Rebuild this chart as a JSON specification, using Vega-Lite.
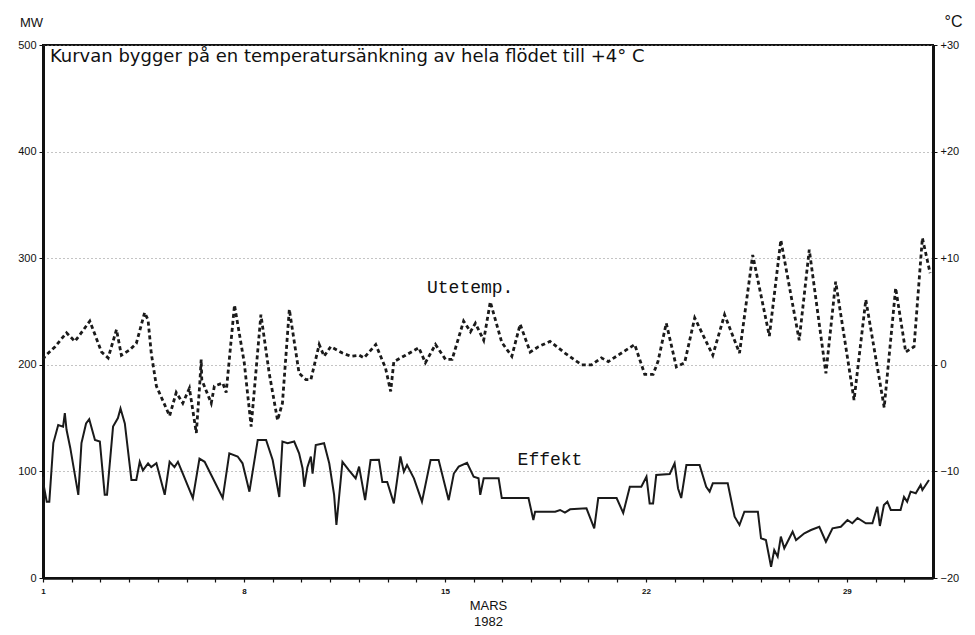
{
  "$schema": "https://vega.github.io/schema/vega-lite/v6.json",
  "width": 890,
  "height": 533,
  "autosize": "none",
  "padding": {"left": 43, "top": 45, "right": 42, "bottom": 57},
  "background": "white",
  "config": {
    "view": {"stroke": "#111", "strokeWidth": 2},
    "font": "Liberation Sans",
    "axis": {"labelColor": "#111", "titleColor": "#111", "domainColor": "#111", "tickColor": "#111"}
  },
  "datasets": {
    "effekt": [
      {"day": 1.0, "mw": 95}, {"day": 1.01, "mw": 89}, {"day": 1.13, "mw": 71.6}, {"day": 1.22, "mw": 71.6},
      {"day": 1.36, "mw": 126.6}, {"day": 1.53, "mw": 143.5}, {"day": 1.7, "mw": 142}, {"day": 1.76, "mw": 154.6},
      {"day": 1.82, "mw": 139}, {"day": 1.95, "mw": 122}, {"day": 2.23, "mw": 78}, {"day": 2.34, "mw": 126.6}, {"day": 2.5, "mw": 145}, {"day": 2.61, "mw": 149},
      {"day": 2.81, "mw": 129.5}, {"day": 2.98, "mw": 128}, {"day": 3.15, "mw": 78}, {"day": 3.23, "mw": 78},
      {"day": 3.44, "mw": 142}, {"day": 3.61, "mw": 150}, {"day": 3.7, "mw": 159}, {"day": 3.85, "mw": 145},
      {"day": 4.08, "mw": 92}, {"day": 4.25, "mw": 92}, {"day": 4.37, "mw": 109}, {"day": 4.48, "mw": 101},
      {"day": 4.66, "mw": 107.6}, {"day": 4.77, "mw": 104}, {"day": 4.95, "mw": 107.6}, {"day": 5.24, "mw": 78},
      {"day": 5.41, "mw": 109}, {"day": 5.58, "mw": 104}, {"day": 5.7, "mw": 109}, {"day": 5.87, "mw": 98},
      {"day": 6.22, "mw": 75}, {"day": 6.45, "mw": 112}, {"day": 6.63, "mw": 109}, {"day": 6.86, "mw": 96.6},
      {"day": 7.26, "mw": 75}, {"day": 7.49, "mw": 117}, {"day": 7.78, "mw": 114}, {"day": 7.95, "mw": 107.6},
      {"day": 8.19, "mw": 81}, {"day": 8.48, "mw": 129.5}, {"day": 8.77, "mw": 129.5}, {"day": 9.0, "mw": 110.7},
      {"day": 9.23, "mw": 76}, {"day": 9.34, "mw": 128}, {"day": 9.52, "mw": 126.4}, {"day": 9.75, "mw": 128},
      {"day": 9.92, "mw": 117}, {"day": 10.04, "mw": 103}, {"day": 10.1, "mw": 85.6}, {"day": 10.21, "mw": 104},
      {"day": 10.33, "mw": 114}, {"day": 10.39, "mw": 98}, {"day": 10.5, "mw": 124.8}, {"day": 10.79, "mw": 126.4},
      {"day": 10.97, "mw": 107.6}, {"day": 11.14, "mw": 78}, {"day": 11.22, "mw": 49.7}, {"day": 11.43, "mw": 109},
      {"day": 11.66, "mw": 101}, {"day": 11.89, "mw": 93.5}, {"day": 12.01, "mw": 104.5}, {"day": 12.22, "mw": 73},
      {"day": 12.41, "mw": 110.7}, {"day": 12.7, "mw": 111}, {"day": 12.82, "mw": 90}, {"day": 12.99, "mw": 90},
      {"day": 13.22, "mw": 70}, {"day": 13.45, "mw": 114}, {"day": 13.57, "mw": 99.7}, {"day": 13.68, "mw": 106},
      {"day": 13.92, "mw": 93.5}, {"day": 14.2, "mw": 71.6}, {"day": 14.5, "mw": 110.7}, {"day": 14.78, "mw": 110.7},
      {"day": 15.13, "mw": 73}, {"day": 15.31, "mw": 98}, {"day": 15.48, "mw": 104.5}, {"day": 15.77, "mw": 108},
      {"day": 16.0, "mw": 95}, {"day": 16.17, "mw": 93.5}, {"day": 16.23, "mw": 78}, {"day": 16.35, "mw": 93.5},
      {"day": 16.87, "mw": 93.5}, {"day": 16.98, "mw": 75}, {"day": 17.91, "mw": 75}, {"day": 18.08, "mw": 54.4},
      {"day": 18.14, "mw": 62.2}, {"day": 18.84, "mw": 62.2}, {"day": 19.01, "mw": 63.8}, {"day": 19.18, "mw": 61.3},
      {"day": 19.36, "mw": 64.4}, {"day": 19.93, "mw": 65.4}, {"day": 20.2, "mw": 46.6}, {"day": 20.34, "mw": 75},
      {"day": 20.98, "mw": 75}, {"day": 21.21, "mw": 61}, {"day": 21.44, "mw": 85.6}, {"day": 21.84, "mw": 85.6},
      {"day": 22.02, "mw": 95}, {"day": 22.13, "mw": 70}, {"day": 22.25, "mw": 70}, {"day": 22.36, "mw": 96.6},
      {"day": 22.83, "mw": 97.6}, {"day": 23.0, "mw": 107.6}, {"day": 23.12, "mw": 84}, {"day": 23.23, "mw": 75},
      {"day": 23.41, "mw": 106}, {"day": 23.87, "mw": 106}, {"day": 24.1, "mw": 85.6}, {"day": 24.22, "mw": 81},
      {"day": 24.33, "mw": 88.8}, {"day": 24.85, "mw": 88.8}, {"day": 25.09, "mw": 57.5}, {"day": 25.26, "mw": 49.7},
      {"day": 25.43, "mw": 62.2}, {"day": 25.9, "mw": 62.2}, {"day": 26.01, "mw": 37.2}, {"day": 26.18, "mw": 35.6},
      {"day": 26.36, "mw": 10.6}, {"day": 26.47, "mw": 26.3}, {"day": 26.59, "mw": 20}, {"day": 26.7, "mw": 38.8},
      {"day": 26.82, "mw": 27.9}, {"day": 27.11, "mw": 43.4}, {"day": 27.23, "mw": 35.6}, {"day": 27.52, "mw": 41.9},
      {"day": 27.75, "mw": 45}, {"day": 28.04, "mw": 48.1}, {"day": 28.27, "mw": 34}, {"day": 28.5, "mw": 46.6},
      {"day": 28.79, "mw": 48.1}, {"day": 29.02, "mw": 54.4}, {"day": 29.19, "mw": 51.3}, {"day": 29.37, "mw": 56.3},
      {"day": 29.66, "mw": 51.3}, {"day": 29.89, "mw": 51.3}, {"day": 30.06, "mw": 66.9}, {"day": 30.15, "mw": 48.8},
      {"day": 30.29, "mw": 68.5}, {"day": 30.41, "mw": 71.6}, {"day": 30.53, "mw": 63.8}, {"day": 30.87, "mw": 63.8},
      {"day": 30.99, "mw": 76}, {"day": 31.1, "mw": 71.6}, {"day": 31.22, "mw": 81}, {"day": 31.4, "mw": 79.5},
      {"day": 31.57, "mw": 87.3}, {"day": 31.63, "mw": 82.6}, {"day": 31.86, "mw": 92}
    ],
    "temp": [
      {"day": 1.0, "temp": 0.5}, {"day": 1.07, "temp": 0.8}, {"day": 1.42, "temp": 1.7}, {"day": 1.82, "temp": 3.0},
      {"day": 2.11, "temp": 2.2}, {"day": 2.28, "temp": 2.8}, {"day": 2.63, "temp": 4.1}, {"day": 3.04, "temp": 1.2},
      {"day": 3.27, "temp": 0.65}, {"day": 3.56, "temp": 3.3}, {"day": 3.73, "temp": 0.9}, {"day": 4.02, "temp": 1.4},
      {"day": 4.25, "temp": 2.0}, {"day": 4.54, "temp": 4.9}, {"day": 4.66, "temp": 4.2}, {"day": 4.77, "temp": 1.1},
      {"day": 4.95, "temp": -2.0}, {"day": 5.41, "temp": -4.8}, {"day": 5.64, "temp": -2.6}, {"day": 5.87, "temp": -3.6},
      {"day": 6.1, "temp": -2.2}, {"day": 6.34, "temp": -6.4}, {"day": 6.46, "temp": -1.8}, {"day": 6.51, "temp": 0.5},
      {"day": 6.53, "temp": -1.4}, {"day": 6.86, "temp": -3.6}, {"day": 6.97, "temp": -2.0}, {"day": 7.26, "temp": -1.7},
      {"day": 7.38, "temp": -2.6}, {"day": 7.67, "temp": 5.6}, {"day": 8.01, "temp": 0.2}, {"day": 8.25, "temp": -5.8},
      {"day": 8.59, "temp": 4.7}, {"day": 8.88, "temp": -0.8}, {"day": 9.17, "temp": -5.2}, {"day": 9.34, "temp": -3.6},
      {"day": 9.58, "temp": 5.2}, {"day": 9.92, "temp": -0.8}, {"day": 10.16, "temp": -1.4}, {"day": 10.33, "temp": -1.4},
      {"day": 10.62, "temp": 1.9}, {"day": 10.79, "temp": 0.8}, {"day": 11.02, "temp": 1.7}, {"day": 11.43, "temp": 1.1},
      {"day": 11.72, "temp": 0.8}, {"day": 12.01, "temp": 0.9}, {"day": 12.18, "temp": 0.65}, {"day": 12.59, "temp": 1.9},
      {"day": 12.93, "temp": -0.3}, {"day": 13.11, "temp": -2.5}, {"day": 13.22, "temp": 0.3}, {"day": 13.63, "temp": 0.9},
      {"day": 14.09, "temp": 1.6}, {"day": 14.32, "temp": 0.2}, {"day": 14.67, "temp": 1.9}, {"day": 15.02, "temp": 0.5},
      {"day": 15.25, "temp": 0.5}, {"day": 15.65, "temp": 4.1}, {"day": 15.89, "temp": 3.1}, {"day": 16.06, "temp": 3.9},
      {"day": 16.35, "temp": 2.3}, {"day": 16.58, "temp": 5.9}, {"day": 16.98, "temp": 2.1}, {"day": 17.33, "temp": 0.8},
      {"day": 17.62, "temp": 3.8}, {"day": 17.97, "temp": 1.2}, {"day": 18.26, "temp": 1.7}, {"day": 18.66, "temp": 2.2},
      {"day": 19.18, "temp": 1.1}, {"day": 19.76, "temp": 0.0}, {"day": 20.11, "temp": 0.0}, {"day": 20.45, "temp": 0.65},
      {"day": 20.69, "temp": 0.3}, {"day": 21.03, "temp": 0.9}, {"day": 21.61, "temp": 1.9}, {"day": 21.96, "temp": -0.9},
      {"day": 22.25, "temp": -0.9}, {"day": 22.42, "temp": 0.3}, {"day": 22.71, "temp": 3.9}, {"day": 23.06, "temp": -0.2},
      {"day": 23.35, "temp": 0.2}, {"day": 23.7, "temp": 4.4}, {"day": 24.33, "temp": 0.9}, {"day": 24.74, "temp": 4.7},
      {"day": 25.26, "temp": 1.1}, {"day": 25.72, "temp": 10.3}, {"day": 26.3, "temp": 2.7}, {"day": 26.7, "temp": 11.7},
      {"day": 27.34, "temp": 2.3}, {"day": 27.69, "temp": 10.8}, {"day": 28.27, "temp": -0.8}, {"day": 28.61, "temp": 7.8},
      {"day": 29.25, "temp": -3.3}, {"day": 29.66, "temp": 6.1}, {"day": 30.3, "temp": -4.0}, {"day": 30.7, "temp": 7.2},
      {"day": 31.05, "temp": 1.2}, {"day": 31.34, "temp": 1.7}, {"day": 31.63, "temp": 11.9}, {"day": 31.9, "temp": 8.6}
    ],
    "notes": [
      {"day": 1.24, "mw": 489, "label": "Kurvan bygger på en temperatursänkning av hela flödet till +4° C"}
    ],
    "serieslabels": [
      {"day": 15.88, "mw": 272, "label": "Utetemp."},
      {"day": 18.66, "mw": 111, "label": "Effekt"}
    ]
  },
  "encoding": {
    "x": {
      "field": "day",
      "type": "quantitative",
      "scale": {"domain": [1, 32], "nice": false, "zero": false},
      "axis": {
        "values": [1,2,3,4,5,6,7,8,9,10,11,12,13,14,15,16,17,18,19,20,21,22,23,24,25,26,27,28,29,30,31],
        "labelExpr": "indexof([1,8,15,22,29], datum.value) >= 0 ? datum.label : ''",
        "title": ["MARS", "1982"],
        "titleFontSize": 13,
        "titleFontWeight": "normal",
        "titleFont": "Liberation Sans",
        "titlePadding": 4,
        "titleLineHeight": 16,
        "labelFontSize": 8,
        "labelFontWeight": "bold",
        "labelPadding": 5,
        "tickSize": 4,
        "tickWidth": 1.2,
        "domainWidth": 2.5,
        "grid": false,
        "labelFlush": false,
        "labelOverlap": false
      }
    }
  },
  "layer": [
    {
      "encoding": {
        "y": {
          "field": "mw",
          "type": "quantitative",
          "scale": {"domain": [0, 500], "nice": false},
          "axis": {
            "orient": "left",
            "values": [0, 100, 200, 300, 400, 500],
            "title": "MW",
            "titleAngle": 0,
            "titleX": -12,
            "titleY": -23,
            "titleAlign": "center",
            "titleBaseline": "middle",
            "titleFontSize": 13,
            "titleFontWeight": "normal",
            "labelFontSize": 11,
            "labelPadding": 3,
            "tickSize": 4,
            "domainWidth": 3,
            "grid": true,
            "gridDash": [1, 3],
            "gridColor": "#888",
            "gridWidth": 1
          }
        }
      },
      "layer": [
        {
          "data": {"name": "effekt"},
          "mark": {"type": "line", "color": "#1a1a1a", "strokeWidth": 2, "strokeJoin": "miter"}
        },
        {
          "data": {"name": "notes"},
          "mark": {"type": "text", "align": "left", "baseline": "middle", "font": "DejaVu Sans", "fontSize": 18, "color": "#111"},
          "encoding": {"text": {"field": "label"}}
        },
        {
          "data": {"name": "serieslabels"},
          "mark": {"type": "text", "align": "center", "baseline": "middle", "font": "Liberation Mono", "fontSize": 18, "color": "#111"},
          "encoding": {"text": {"field": "label"}}
        }
      ]
    },
    {
      "data": {"name": "temp"},
      "mark": {"type": "line", "color": "#1a1a1a", "strokeWidth": 2.8, "strokeDash": [4, 3]},
      "encoding": {
        "y": {
          "field": "temp",
          "type": "quantitative",
          "scale": {"domain": [-20, 30], "nice": false, "zero": false},
          "axis": {
            "orient": "right",
            "values": [-20, -10, 0, 10, 20, 30],
            "labelExpr": "datum.value > 0 ? '+' + datum.label : datum.label",
            "title": "°C",
            "titleAngle": 0,
            "titleX": 20,
            "titleY": -24,
            "titleAlign": "center",
            "titleBaseline": "middle",
            "titleFontSize": 16,
            "titleFontWeight": "normal",
            "labelFontSize": 11,
            "labelPadding": 3,
            "tickSize": 4,
            "domainWidth": 3,
            "grid": false
          }
        }
      }
    }
  ],
  "resolve": {"scale": {"y": "independent"}}
}
